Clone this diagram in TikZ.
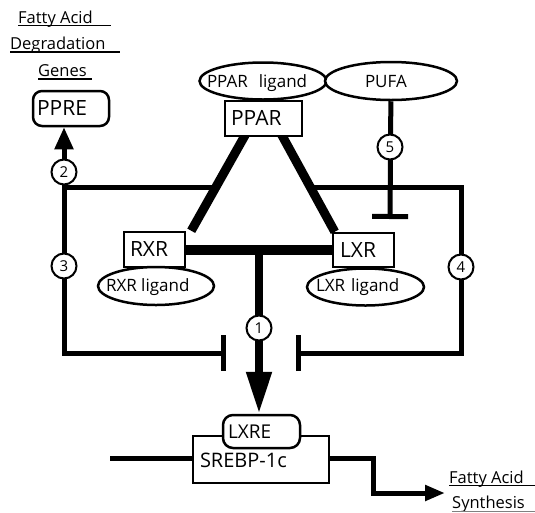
\documentclass[tikz,border=0pt]{standalone}
\usepackage{fontspec}
\setmainfont{Open Sans}
\usetikzlibrary{arrows.meta,shapes.geometric,calc}
\pgfdeclarelayer{back}
\pgfdeclarelayer{bg}
\pgfsetlayers{back,bg,main}
\newcommand{\tx}[3]{\makebox[0pt][l]{\hspace*{-#1pt}\raisebox{-#2pt}[0pt][0pt]{#3}}}
\begin{document}
\begin{tikzpicture}[x=1pt,y=-1pt,
  box/.style={draw,line width=2.5pt,fill=white,inner sep=0pt,font=\fontsize{21}{24}\selectfont},
  ell/.style={draw,ellipse,line width=2.5pt,fill=white,inner sep=0pt,font=\fontsize{17}{20}\selectfont},
  num/.style={draw,circle,line width=2pt,fill=white,minimum size=25pt,inner sep=0pt,font=\fontsize{15}{17}\selectfont},
  lbl/.style={inner sep=0pt,anchor=base west,font=\fontsize{16.5}{19}\selectfont},
  uline/.style={line width=1.6pt},
  conn/.style={line width=5pt},
  legline/.style={line width=9pt},
]
\begin{pgfonlayer}{back}
\fill[white] (0,0) rectangle (535,512);
\end{pgfonlayer}
\useasboundingbox (0,0) rectangle (535,512);

% labels
\node[lbl] (fa1) at (18,23) {Fatty Acid};
\node[lbl] (dg) at (10,49) {Degradation};
\node[lbl] (gn) at (38,76) {Genes};
\draw[uline] ($(fa1.base west)+(0,2.5)$) -- ++(93,0);
\draw[uline] ($(dg.base west)+(0,3)$) -- ++(110,0);
\draw[uline] ($(gn.base west)+(0,3)$) -- ++(54,0);
\node[lbl] (fa2) at (449,483) {Fatty Acid};
\node[lbl] (syn) at (452,508) {Synthesis};
\draw[uline] ($(fa2.base west)+(0,2.5)$) -- ++(86,0);
\draw[uline,gray] ($(syn.base west)+(0,3.5)$) -- ++(83,0);

% nodes
\node[box,rounded corners=9pt,minimum width=76pt,minimum height=35pt] (ppre) at (71,108.5) {\tx{34}{7}{PPRE}};
\node[ell,minimum width=127pt,minimum height=37pt] (ppl) at (263,81) {\tx{56}{6.5}{PPAR\hspace{11pt}ligand}};
\node[ell,minimum width=132pt,minimum height=38pt] (pufa) at (391,81) {\tx{26}{6}{PUFA}};
\node[box,minimum width=77pt,minimum height=35pt] (ppar) at (263.5,118.5) {\tx{32.5}{7}{PPAR}};
\node[box,minimum width=61pt,minimum height=35pt] (rxr) at (154.5,249.5) {\tx{24.5}{7}{RXR}};
\node[box,minimum width=61pt,minimum height=34pt] (lxr) at (363.5,250) {\tx{23.5}{7.5}{LXR}};
\node[ell,minimum width=116pt,minimum height=38pt] (rxl) at (156,286) {\tx{50}{5}{RXR ligand}};
\node[ell,minimum width=117pt,minimum height=37pt] (lxl) at (365.5,287) {\tx{49.5}{4.5}{LXR\hspace{6pt}ligand}};
\node[box,minimum width=136pt,minimum height=47pt,font=\fontsize{20}{22}\selectfont] (srebp) at (261,459.5) {\tx{61}{7.5}{SREBP-1c}};
\node[box,rounded corners=10pt,minimum width=77pt,minimum height=33pt,font=\fontsize{19}{21}\selectfont] (lxre) at (261.5,431.5) {\tx{33.5}{6.5}{LXRE}};

\node[num] (c1) at (259,328) {1};
\node[num] (c2) at (64,172) {2};
\node[num] (c3) at (64,266) {3};
\node[num] (c4) at (461,267) {4};
\node[num] (c5) at (390,147) {5};

% coordinates
\coordinate (barL) at (226,353);
\coordinate (barR) at (296,353);
\coordinate (barP) at (390,219);
\coordinate (sl) at (110,458);
\coordinate (k1) at (373,458);
\coordinate (k2) at (373,493);
\coordinate (fat) at (445,493);
\coordinate (pL) at ($(ppar.south west)+(23,-5)$);
\coordinate (eL) at ($(rxr.north east)+(5,0)$);
\coordinate (pR) at ($(ppar.south east)+(-23,-5)$);
\coordinate (eR) at ($(lxr.north west)+(3,0)$);
\coordinate (jL) at ($(pL)!0.564!(eL)$);
\coordinate (jR) at ($(pR)!0.559!(eR)$);
\coordinate (tl) at (c2 |- jL);
\coordinate (tr) at (c4 |- jR);
\coordinate (bl) at (c3 |- barL);
\coordinate (br) at (c4 |- barR);
\coordinate (jM) at (c1 |- rxr.east);

\begin{pgfonlayer}{bg}
\draw[conn,-{Triangle[length=22pt,width=18pt]}] (tl) -- (ppre.south -| tl);
\draw[conn,-{Bar[width=36pt]}] (jL) -- (tl) -- (bl) -- (barL);
\draw[conn,-{Bar[width=36pt]}] (jR) -- (tr) -- (br) -- (barR);
\draw[conn,-{Bar[width=36pt]}] (pufa) -- (barP);
\draw[legline] (pL) -- (eL);
\draw[legline] (pR) -- (eR);
\draw[line width=10pt] (rxr.east) -- (rxr.east -| lxr.west);
\draw[line width=8pt,-{Triangle[length=42pt,width=24pt]}] (jM) -- (lxre.north -| jM);
\draw[conn] (sl) -- (sl -| srebp.west);
\draw[conn,-{Triangle[length=20pt,width=15pt]}] (k1 -| srebp.east) -- (k1) -- (k2) -- (fat);
\end{pgfonlayer}
\end{tikzpicture}
\end{document}
